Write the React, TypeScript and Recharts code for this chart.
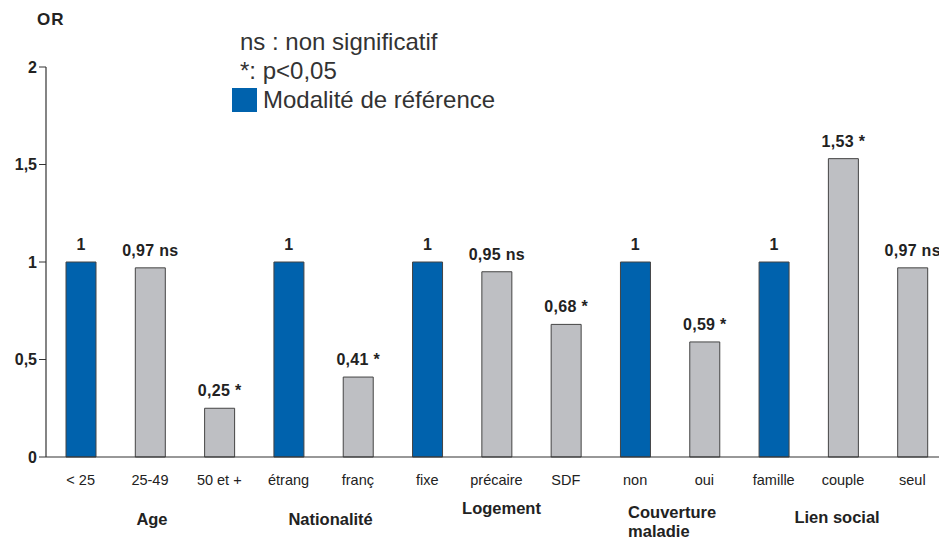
import React from "react";
import { BarChart, Bar, XAxis, YAxis, Cell, LabelList } from "recharts";

// categories and odds ratios
const categories = ["< 25", "25-49", "50 et +", "étrang", "franç", "fixe", "précaire", "SDF", "non", "oui", "famille", "couple", "seul"];
const orValues = [1, 0.97, 0.25, 1, 0.41, 1, 0.95, 0.68, 1, 0.59, 1, 1.53, 0.97];
const significance = ["", "ns", "*", "", "*", "", "ns", "*", "", "*", "", "*", "ns"];
const isReference = [true, false, false, true, false, true, false, false, true, false, true, false, false];
const yTicks = [0, 0.5, 1, 1.5, 2];

// group label, anchored under a category
const groupNames = ["Age", "Nationalité", "Logement", "Couverture maladie", "Lien social"];
const groupAnchors = ["25-49", "étrang", "précaire", "non", "couple"];

const BLUE = "#0062ad";
const GRAY = "#bebfc3";
const INK = "#222";
const FONT = "Liberation Sans, Arial, sans-serif";

const data = categories.map((c, i) => ({
  name: c,
  value: orValues[i],
  label: (String(orValues[i]).replace(".", ",") + " " + significance[i]).trim(),
  reference: isReference[i],
}));

const groupLayout: Record<string, { dx: number; dy: number; anchor: string }> = {
  Age: { dx: 2, dy: 68, anchor: "middle" },
  Nationalité: { dx: 42, dy: 68, anchor: "middle" },
  Logement: { dx: 5, dy: 57, anchor: "middle" },
  "Couverture maladie": { dx: -7, dy: 61, anchor: "start" },
  "Lien social": { dx: -6, dy: 66, anchor: "middle" },
};

const CategoryTick = (props: any) => {
  const { x, payload } = props;
  const axisY = 456.7;
  const gi = groupAnchors.indexOf(payload.value);
  const group = gi >= 0 ? groupNames[gi] : null;
  const lay = group ? groupLayout[group] : null;
  return (
    <g>
      <text x={x} y={axisY + 28} textAnchor="middle" fontSize={14.5} fill={INK} fontFamily={FONT}>
        {payload.value}
      </text>
      {group && lay && (
        <text
          x={x + lay.dx}
          y={axisY + lay.dy}
          textAnchor={lay.anchor as any}
          fontSize={16.5}
          fontWeight="bold"
          fill={INK}
          fontFamily={FONT}
        >
          {group.includes(" ") && lay.anchor === "start"
            ? group.split(" ").map((w, k) => (
                <tspan key={k} x={x + lay.dx} dy={k === 0 ? 0 : 19}>
                  {w}
                </tspan>
              ))
            : group}
        </text>
      )}
    </g>
  );
};

const ValueLabel = (props: any) => {
  const { x, y, width, value } = props;
  return (
    <text x={x + width / 2} y={y - 12} textAnchor="middle" fontSize={16} fontWeight="bold" fill={INK} fontFamily={FONT} letterSpacing={0.3}>
      {value}
    </text>
  );
};

export default function App() {
  return (
    <div style={{ position: "absolute", left: 0, top: 0, width: 939, height: 539, overflow: "hidden", background: "#fff", fontFamily: FONT }}>
      <div style={{ position: "absolute", left: 37, top: 10, fontSize: 17, lineHeight: "20px", fontWeight: "bold", color: INK, letterSpacing: 1 }}>OR</div>
      <div style={{ position: "absolute", left: 240, top: 27, fontSize: 24, color: "#333", lineHeight: "29px" }}>
        <div>ns : non significatif</div>
        <div>*: p&lt;0,05</div>
      </div>
      <div style={{ position: "absolute", left: 232, top: 88, width: 25, height: 24, background: BLUE }} />
      <div style={{ position: "absolute", left: 263, top: 85, fontSize: 24, color: "#333", lineHeight: "29px" }}>Modalité de référence</div>
      <div style={{ position: "absolute", left: 0, top: 0 }}>
        <BarChart width={947} height={539} data={data} margin={{ top: 67, right: 0, bottom: 0, left: 0 }}>
          <XAxis
            dataKey="name"
            height={82}
            axisLine={{ stroke: "#333", strokeWidth: 1.2 }}
            tickLine={false}
            tick={<CategoryTick />}
            interval={0}
          />
          <YAxis
            width={46}
            domain={[0, 2]}
            ticks={yTicks}
            tickSize={7}
            axisLine={{ stroke: "#333", strokeWidth: 1.2 }}
            tickLine={{ stroke: "#333" }}
            tickFormatter={(v: number) => String(v).replace(".", ",")}
            tick={{ fontSize: 16, fontWeight: "bold", fill: INK, fontFamily: FONT }}
          />
          <Bar dataKey="value" barSize={30} stroke="#444" strokeWidth={1} isAnimationActive={false}>
            {data.map((d, i) => (
              <Cell key={i} fill={d.reference ? BLUE : GRAY} />
            ))}
            <LabelList dataKey="label" content={<ValueLabel />} />
          </Bar>
        </BarChart>
      </div>
    </div>
  );
}
